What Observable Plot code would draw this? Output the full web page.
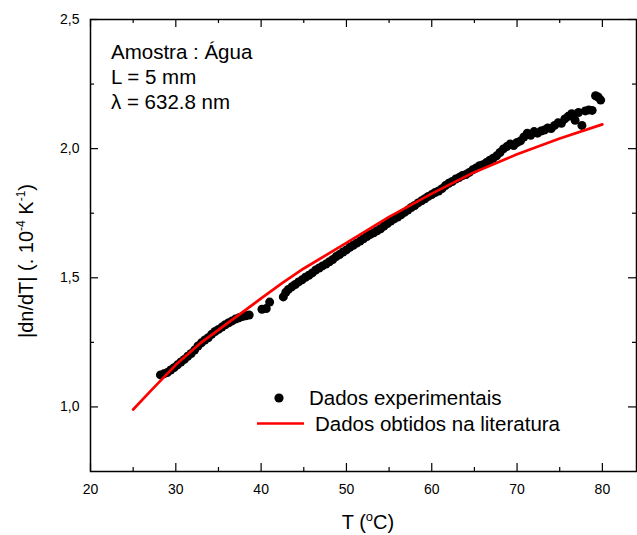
<!DOCTYPE html>
<html>
<head>
<meta charset="utf-8">
<script src="https://cdn.jsdelivr.net/npm/d3@7"></script>
<script src="https://cdn.jsdelivr.net/npm/@observablehq/plot@0.6"></script>
<style>
  html, body { margin: 0; padding: 0; background: #fff; }
  #chart { position: relative; width: 637px; height: 535px; }
</style>
</head>
<body>
<div id="chart"></div>
<script>
// Experimental data: temperature (°C) and |dn/dT| (10^-4 K^-1)
const expTemp = [28.2,28.6,29.0,29.4,29.8,30.2,30.6,31.0,31.4,31.8,32.2,32.6,33.0,33.4,33.8,34.2,34.6,35.0,35.4,35.8,36.2,36.6,37.0,37.4,37.8,38.2,38.6,40.1,40.6,41.0,42.6,42.9,43.2,43.6,44.0,44.4,44.8,45.2,45.6,46.0,46.4,46.8,47.2,47.6,48.0,48.4,48.8,49.2,49.6,50.0,50.4,50.8,51.2,51.6,52.0,52.4,52.8,53.2,53.6,54.0,54.4,54.8,55.2,55.6,56.0,56.4,56.8,57.2,57.6,58.0,58.4,58.8,59.2,59.6,60.0,60.4,60.8,61.2,61.6,62.0,62.4,62.8,63.2,63.6,64.0,64.4,64.8,65.2,65.6,66.0,66.4,66.8,67.2,67.6,68.0,68.4,68.8,69.2,69.6,70.0,70.4,70.8,71.2,71.6,72.0,72.4,72.8,73.2,73.6,74.0,74.4,74.8,75.2,75.6,76.0,76.4,76.8,77.2,77.6,78.0,78.4,78.8,79.2,79.5,79.8];
const expDndT = [1.124,1.128,1.133,1.143,1.152,1.163,1.174,1.184,1.196,1.207,1.220,1.236,1.248,1.259,1.268,1.281,1.292,1.300,1.309,1.318,1.326,1.333,1.340,1.345,1.350,1.353,1.356,1.378,1.381,1.406,1.426,1.444,1.455,1.465,1.474,1.484,1.492,1.502,1.510,1.519,1.530,1.538,1.546,1.553,1.562,1.571,1.582,1.590,1.600,1.608,1.618,1.626,1.634,1.642,1.651,1.660,1.668,1.674,1.682,1.690,1.700,1.710,1.720,1.728,1.735,1.744,1.753,1.762,1.772,1.780,1.790,1.798,1.806,1.815,1.822,1.830,1.836,1.845,1.857,1.866,1.873,1.882,1.888,1.896,1.900,1.908,1.918,1.925,1.934,1.938,1.946,1.955,1.963,1.972,1.985,1.999,2.008,2.018,2.012,2.024,2.030,2.045,2.060,2.052,2.066,2.060,2.068,2.072,2.080,2.078,2.090,2.100,2.098,2.115,2.125,2.135,2.110,2.140,2.090,2.146,2.150,2.148,2.205,2.200,2.188];

// Literature data
const litTemp = [25,27,30,33,35,40,42.5,45,50,55,60,65,70,75,80];
const litDndT = [0.990,1.060,1.163,1.250,1.298,1.420,1.480,1.536,1.635,1.736,1.826,1.909,1.978,2.039,2.094];

// Axis ticks
const xTicks = [20,30,40,50,60,70,80];
const xMinorTicks = [25,35,45,55,65,75];
const yTicks = [1.0,1.5,2.0,2.5];
const yTickLabels = ["1,0","1,5","2,0","2,5"];
const yMinorTicks = [1.25,1.75,2.25];

const expData = expTemp.map((t, i) => ({t, v: expDndT[i]}));
const litData = litTemp.map((t, i) => ({t, v: litDndT[i]}));

const W = 637, H = 535;
const mL = 90, mR = 1, mT = 19, mB = 64;
const pw = W - mL - mR, ph = H - mT - mB;
const majorLen = 8, minorLen = 4;

const chart = Plot.plot({
  width: W, height: H,
  marginLeft: mL, marginRight: mR, marginTop: mT, marginBottom: mB,
  x: {domain: [20, 84]},
  y: {domain: [0.75, 2.5]},
  style: {fontFamily: "'Liberation Sans', Arial, sans-serif", fontSize: "14px", color: "black", background: "white", overflow: "visible"},
  marks: [
    Plot.dot(expData, {x: "t", y: "v", r: 4.5, fill: "black", stroke: "none"}),
    Plot.line(litData, {x: "t", y: "v", stroke: "#ff0000", strokeWidth: 2.7}),
    Plot.frame({stroke: "black", strokeWidth: 1.5}),
    // inward ticks: bottom
    Plot.tickX(xTicks, {x: d => d, insetTop: ph - majorLen, stroke: "black", strokeWidth: 1.2}),
    Plot.tickX(xMinorTicks, {x: d => d, insetTop: ph - minorLen, stroke: "black", strokeWidth: 1.2}),
    // top
    Plot.tickX(xTicks, {x: d => d, insetBottom: ph - majorLen, stroke: "black", strokeWidth: 1.2}),
    Plot.tickX(xMinorTicks, {x: d => d, insetBottom: ph - minorLen, stroke: "black", strokeWidth: 1.2}),
    // left
    Plot.tickY(yTicks, {y: d => d, insetRight: pw - majorLen, stroke: "black", strokeWidth: 1.2}),
    Plot.tickY(yMinorTicks, {y: d => d, insetRight: pw - minorLen, stroke: "black", strokeWidth: 1.2}),
    // right
    Plot.tickY(yTicks, {y: d => d, insetLeft: pw - majorLen, stroke: "black", strokeWidth: 1.2}),
    Plot.tickY(yMinorTicks, {y: d => d, insetLeft: pw - minorLen, stroke: "black", strokeWidth: 1.2}),
    Plot.axisX({ticks: xTicks, tickSize: 0, tickPadding: 13, label: null, fontSize: 14}),
    Plot.axisY({ticks: yTicks, tickSize: 0, tickPadding: 11, label: null, fontSize: 14,
      tickFormat: d => yTickLabels[yTicks.indexOf(d)]})
  ]
});

document.getElementById("chart").appendChild(chart);

const svg = d3.select(chart);
const font = "'Liberation Sans', Arial, sans-serif";

// X axis title: T (°C)
const xt = svg.append("text")
  .attr("x", 368).attr("y", 529)
  .attr("text-anchor", "middle")
  .attr("font-family", font).attr("font-size", 20).attr("fill", "black");
xt.append("tspan").text("T (");
xt.append("tspan").attr("font-size", 13).attr("dy", -8).text("o");
xt.append("tspan").attr("dy", 8).text("C)");

// Y axis title: |dn/dT| (. 10^-4 K^-1)
const yt = svg.append("text")
  .attr("transform", `translate(33, 261) rotate(-90)`)
  .attr("text-anchor", "middle")
  .attr("font-family", font).attr("font-size", 20).attr("fill", "black");
yt.append("tspan").text("|dn/dT| (. 10");
yt.append("tspan").attr("font-size", 12).attr("dy", -8).text("-4");
yt.append("tspan").attr("dy", 8).text(" K");
yt.append("tspan").attr("font-size", 12).attr("dy", -8).text("-1");
yt.append("tspan").attr("dy", 8).text(")");

// Annotation
const annLines = ["Amostra : Água", "L = 5 mm", "λ = 632.8 nm"];
annLines.forEach((s, i) => {
  svg.append("text")
    .attr("x", 111).attr("y", 59 + i * 25)
    .attr("text-anchor", "start")
    .attr("font-family", font).attr("font-size", 20.5).attr("fill", "black")
    .text(s);
});

// Legend
svg.append("circle").attr("cx", 279).attr("cy", 398).attr("r", 4.6).attr("fill", "black");
svg.append("text").attr("x", 309).attr("y", 405)
  .attr("text-anchor", "start")
  .attr("font-family", font).attr("font-size", 20.5).attr("fill", "black")
  .text("Dados experimentais");
svg.append("line").attr("x1", 257).attr("x2", 304).attr("y1", 423.5).attr("y2", 423.5)
  .attr("stroke", "#ff0000").attr("stroke-width", 2.7);
svg.append("text").attr("x", 315).attr("y", 430.5)
  .attr("text-anchor", "start")
  .attr("font-family", font).attr("font-size", 20.5).attr("fill", "black")
  .text("Dados obtidos na literatura");
</script>
</body>
</html>
